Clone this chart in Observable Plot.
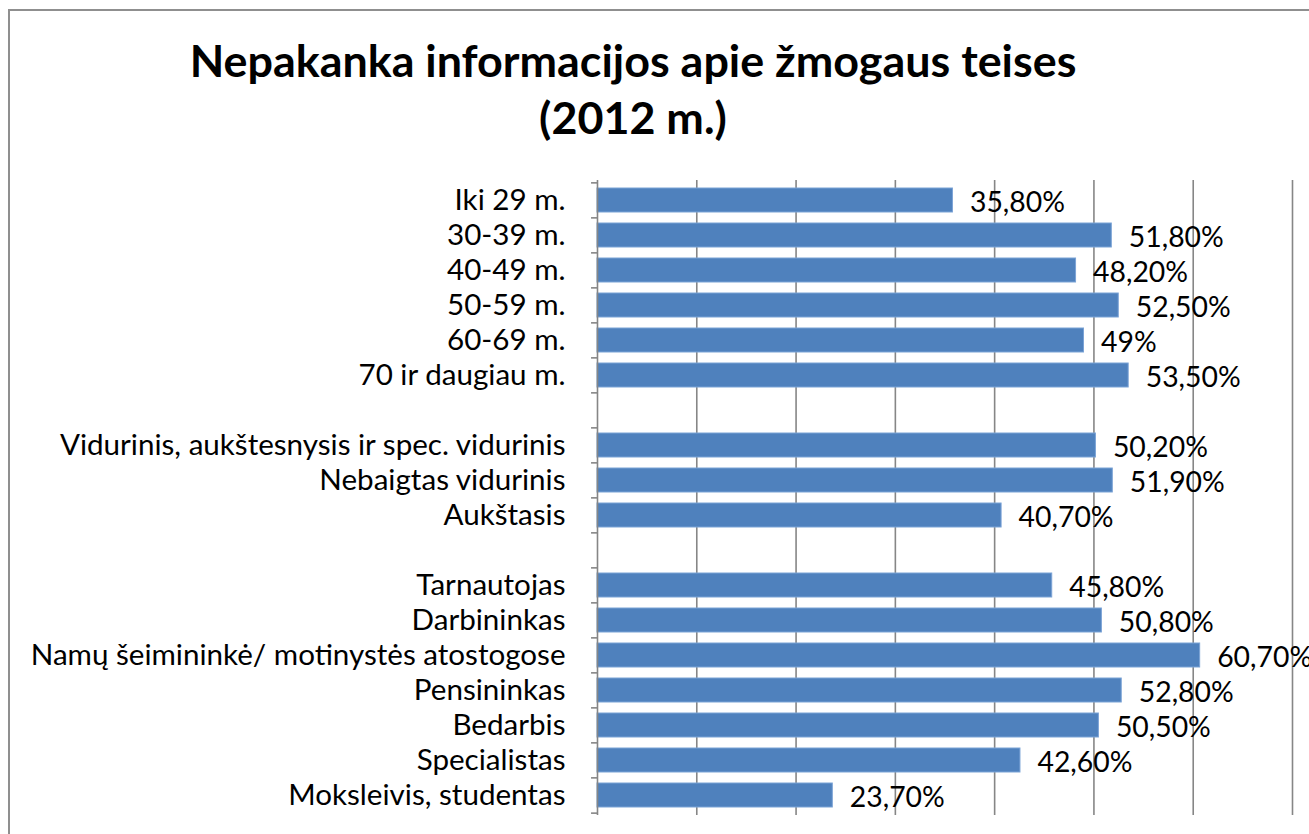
<!DOCTYPE html>
<html><head><meta charset="utf-8">
<script src="https://cdn.jsdelivr.net/npm/d3@7"></script>
<script src="https://cdn.jsdelivr.net/npm/@observablehq/plot@0.6"></script>
<style>
html,body{margin:0;padding:0;background:#fff;overflow:hidden}
#wrap{position:relative;width:1309px;height:834px;overflow:hidden;background:#fff}
#frame{position:absolute;left:8px;top:9px;width:1400px;height:900px;border-left:2px solid #8f8f8f;border-top:2px solid #8f8f8f}
.title{position:absolute;left:0;width:1266px;text-align:center;font-family:Lato;font-weight:700;color:#000;white-space:nowrap;line-height:1}
#chart{position:absolute;left:0;top:0}
</style></head><body>
<div id="wrap"><div id="frame"></div><div id="chart"></div>
<div class="title" id="t1">Nepakanka informacijos apie žmogaus teises</div>
<div class="title" id="t2">(2012 m.)</div></div>
<script>
const titleLines = ["Nepakanka informacijos apie žmogaus teises", "(2012 m.)"];
const categories = [
  "Iki 29 m.", "30-39 m.", "40-49 m.", "50-59 m.", "60-69 m.", "70 ir daugiau m.",
  " ",
  "Vidurinis, aukštesnysis ir spec. vidurinis", "Nebaigtas vidurinis", "Aukštasis",
  "  ",
  "Tarnautojas", "Darbininkas", "Namų šeimininkė/ motinystės atostogose", "Pensininkas",
  "Bedarbis", "Specialistas", "Moksleivis, studentas"
];
const values = [
  35.8, 51.8, 48.2, 52.5, 49, 53.5,
  null,
  50.2, 51.9, 40.7,
  null,
  45.8, 50.8, 60.7, 52.8, 50.5, 42.6, 23.7
];
const xTicks = [0, 10, 20, 30, 40, 50, 60, 70];

const rows = categories.map((c, i) => ({cat: c, v: values[i]})).filter(d => d.v != null);
const fmt = v => Number.isInteger(v) ? `${v}%` : v.toFixed(2).replace(".", ",") + "%";

// font sizing by measurement
const ctx = document.createElement("canvas").getContext("2d");
function fit(text, weight, target, base) {
  ctx.font = `${weight} ${base}px Lato`;
  return base * target / ctx.measureText(text).width;
}
const labelSize = fit("Vidurinis, aukštesnysis ir spec. vidurinis", 400, 507, 25);
const valueSize = fit("51,80%", 400, 95, 25);
const titleSize = fit(titleLines[0], 700, 887, 40);

const t1 = document.getElementById("t1"), t2 = document.getElementById("t2");
t1.style.fontSize = titleSize + "px"; t2.style.fontSize = titleSize + "px";
t1.style.top = (60 - titleSize * 0.5) + "px";
t2.style.top = (117 - titleSize * 0.5) + "px";

const W = 1309, H = 834, mTop = 180, mBottom = 19, mLeft = 597, mRight = 17;
const step = (H - mTop - mBottom) / categories.length;

const chart = Plot.plot({
  width: W, height: H,
  marginTop: mTop, marginBottom: mBottom, marginLeft: mLeft, marginRight: mRight,
  style: {fontFamily: "Lato", color: "#000", background: "transparent", overflow: "visible"},
  x: {domain: [0, 70], axis: null},
  y: {domain: categories, paddingInner: 0.32, paddingOuter: 0.16, axis: null, label: null},
  marks: [
    Plot.ruleX(xTicks.slice(1), {stroke: "#868686", strokeWidth: 1.6}),
    Plot.barX(rows, {y: "cat", x: "v", fill: "#4F81BD", stroke: "#7ba3d6", strokeWidth: 1}),
    Plot.ruleX([0], {stroke: "#868686", strokeWidth: 1.6}),
    Plot.ruleY(categories, {y: d => d, x1: -0.6, x2: 0, stroke: "#868686", strokeWidth: 1.6, dy: -step / 2}),
    Plot.ruleY(categories.slice(-1), {y: d => d, x1: -0.6, x2: 0, stroke: "#868686", strokeWidth: 1.6, dy: step / 2}),
    Plot.axisY({tickSize: 0, tickPadding: 32, fontSize: labelSize, tickFormat: d => d.trim(), fill: "#000", label: null}),
    Plot.text(rows, {y: "cat", x: "v", text: d => fmt(d.v), textAnchor: "start", dx: 17, dy: 2, fontSize: valueSize, fill: "#000"})
  ]
});
document.getElementById("chart").appendChild(chart);
</script>
</body></html>
